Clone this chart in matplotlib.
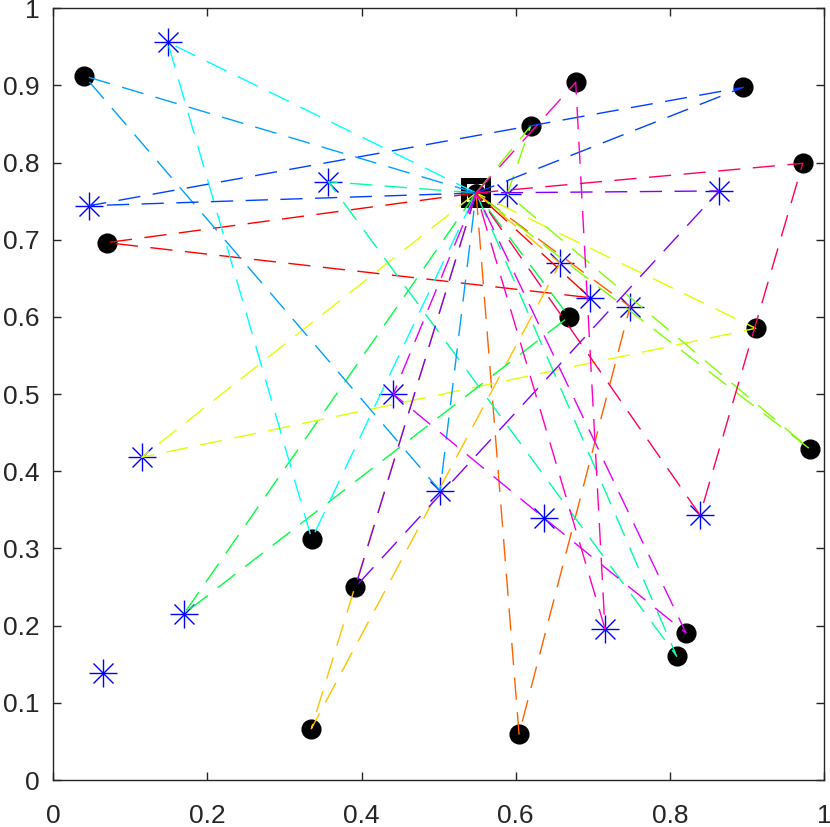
import matplotlib

matplotlib.use("Agg")

import matplotlib.pyplot as plt
import numpy as np

# sink (base station)
sink_x, sink_y = 0.5486, 0.7607

# sensor nodes (black dots)
black_x = [0.0402, 0.0693, 0.6778, 0.8953, 0.6194, 0.9724, 0.9114, 0.9818,
           0.6691, 0.3353, 0.3919, 0.3348, 0.6043, 0.8209, 0.8089]
black_y = [0.9123, 0.6963, 0.9041, 0.8976, 0.8475, 0.7991, 0.5853, 0.4289,
           0.6004, 0.3123, 0.2501, 0.0665, 0.0596, 0.1905, 0.1603]

# asterisk nodes
star_x = [0.1484, 0.0467, 0.3568, 0.5891, 0.8638, 0.6575, 0.6964, 0.7483,
          0.4412, 0.1147, 0.5018, 0.6367, 0.8391, 0.7158, 0.1692, 0.0641]
star_y = [0.9560, 0.7442, 0.7753, 0.7594, 0.7633, 0.6696, 0.6250, 0.6133,
          0.5002, 0.4182, 0.3749, 0.3395, 0.3434, 0.1961, 0.2151, 0.1387]

# routes: "S" = sink, "Bk" = black node k, "Ak" = asterisk k (0-based)
routes = [
    ["S", "B1", "A6", "S"],
    ["S", "B12", "A7", "S"],
    ["S", "B11", "A5", "S"],
    ["S", "A9", "B6", "S"],
    ["S", "B4", "A3", "B7", "S"],
    ["S", "A14", "B8", "S"],
    ["S", "A2", "B14", "S"],
    ["S", "A0", "B9", "S"],
    ["S", "B0", "A10", "S"],
    ["S", "A1", "B3", "S"],
    ["S", "B10", "A4", "S"],
    ["S", "A8", "A11", "B13", "S"],
    ["S", "B2", "A13", "S"],
    ["S", "B5", "A12", "S"],
]
route_colors = ["#ff0000", "#ff6000", "#ffc000", "#e0ff00", "#80ff00", "#00ff40",
                "#00ffa0", "#00ffff", "#00a0ff", "#0040ff", "#8000ff", "#e000ff",
                "#ff00c0", "#ff0060"]


def node_xy(name):
    if name == "S":
        return sink_x, sink_y
    k = int(name[1:])
    if name[0] == "B":
        return black_x[k], black_y[k]
    return star_x[k], star_y[k]


plt.rcParams["font.family"] = ["Liberation Sans", "DejaVu Sans"]

fig = plt.figure(figsize=(8.3, 8.27), dpi=100)
ax = fig.add_axes([0.0642, 0.0568, 0.9286, 0.9332])

# markers
ax.plot(star_x, star_y, linestyle="none", marker="+", markersize=19.5,
        markeredgewidth=1.0, color="#0000ff", zorder=2)
ax.plot(star_x, star_y, linestyle="none", marker="x", markersize=13.7,
        markeredgewidth=1.0, color="#0000ff", zorder=2)
ax.plot(black_x, black_y, linestyle="none", marker="o", markersize=13.5,
        color="black", zorder=2)
ax.plot([sink_x], [sink_y], linestyle="none", marker="s", markersize=16.6,
        markerfacecolor="white", markeredgecolor="black", markeredgewidth=4.3, zorder=2)
ax.plot([sink_x], [sink_y], linestyle="none", marker="o", markersize=12.5,
        color="black", zorder=2)

# routes
for route, col in zip(routes, route_colors):
    pts = [node_xy(n) for n in route]
    xs = [p[0] for p in pts]
    ys = [p[1] for p in pts]
    ax.plot(xs, ys, color=col, linewidth=1.0, linestyle=(0, (16, 9)), zorder=3)

ax.set_xlim(0, 1)
ax.set_ylim(0, 1)
ax.set_xticks(np.arange(0, 1.01, 0.2))
ax.set_yticks(np.arange(0, 1.01, 0.1))
ax.set_xticklabels(["0", "0.2", "0.4", "0.6", "0.8", "1"])
ax.set_yticklabels(["0", "0.1", "0.2", "0.3", "0.4", "0.5", "0.6", "0.7", "0.8", "0.9", "1"])
ax.tick_params(direction="in", length=5.8, width=1.0, color="#262626",
               labelsize=19, labelcolor="#262626", top=True, right=True)
ax.tick_params(axis="x", pad=17)
ax.tick_params(axis="y", pad=10)
for s in ax.spines.values():
    s.set_color("#262626")
    s.set_linewidth(1.0)

fig.savefig("out.png", dpi=100)
